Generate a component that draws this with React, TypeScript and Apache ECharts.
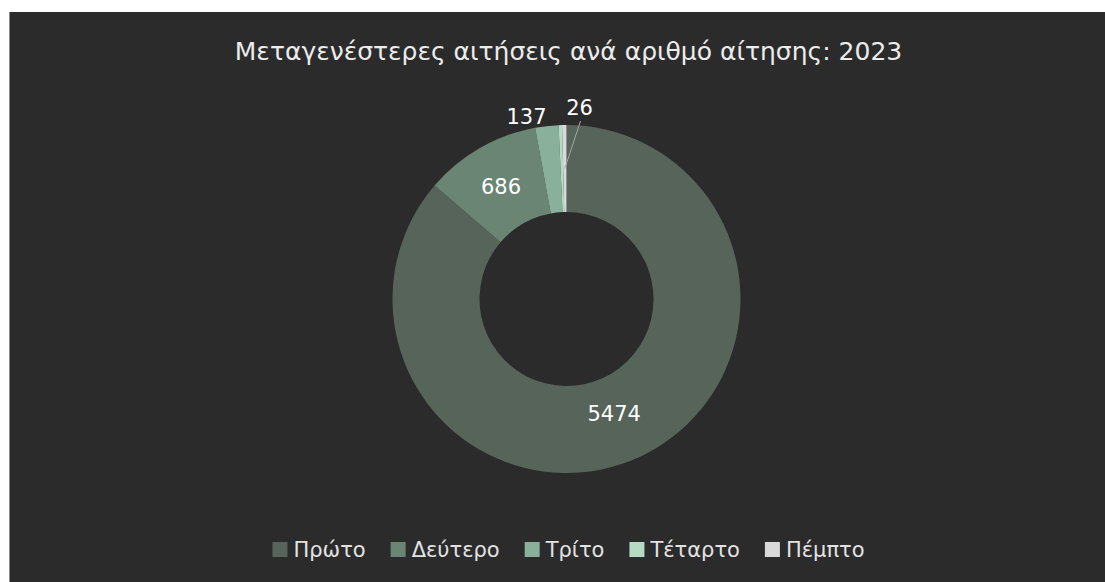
import React, { useEffect, useRef } from "react";
import * as echarts from "echarts";

const TITLE = "Μεταγενέστερες αιτήσεις ανά αριθμό αίτησης: 2023";
const categories = ["Πρώτο", "Δεύτερο", "Τρίτο", "Τέταρτο", "Πέμπτο"];
const values = [5474, 686, 137, 20, 26];
const colors = ["#56645a", "#6a8574", "#89b09a", "#b3dcc3", "#d9d9d9"];

const FONT = "'DejaVu Sans', sans-serif";
const CX = 556.5;
const CY = 287;
const R_IN = 87;
const R_OUT = 174;

export default function App() {
  const ref = useRef<HTMLDivElement>(null);
  useEffect(() => {
    if (!ref.current) return;
    const chart = echarts.init(ref.current, null, { renderer: "svg" });
    const total = values.reduce((a, b) => a + b, 0);
    const midPoint = (idx: number, r: number) => {
      let acc = 0;
      for (let i = 0; i < idx; i++) acc += values[i];
      const mid = ((acc + values[idx] / 2) / total) * Math.PI * 2;
      return [CX + r * Math.sin(mid), CY - r * Math.cos(mid)];
    };
    const L137 = [CX - 40, CY - 182];
    const L26 = [CX + 13, CY - 191];
    const [px, py] = midPoint(4, (R_IN + R_OUT) / 2);
    const data = categories.map((name, i) => {
      const item: any = { name, value: values[i], itemStyle: { color: colors[i] } };
      if (i === 3) item.label = { show: false };
      return item;
    });
    chart.setOption({
      animation: false,
      backgroundColor: "#2b2b2b",
      title: {
        text: TITLE,
        left: "center",
        top: 22,
        textStyle: { color: "#ececec", fontFamily: FONT, fontSize: 25, fontWeight: "normal" },
      },
      legend: {
        data: categories,
        bottom: 17,
        left: "center",
        icon: "rect",
        itemWidth: 15,
        itemHeight: 15,
        itemGap: 25,
        textStyle: { color: "#e2e2e2", fontFamily: FONT, fontSize: 21, padding: [0, 0, 0, 1] },
      },
      graphic: [
        {
          type: "line",
          silent: true,
          z: 10,
          shape: { x1: L26[0] + 1, y1: L26[1] + 13, x2: px, y2: py },
          style: { stroke: "#a6a6a6", lineWidth: 1 },
        },
      ],
      series: [
        {
          type: "pie",
          center: [CX, CY],
          radius: [R_IN, R_OUT],
          startAngle: 90,
          clockwise: true,
          avoidLabelOverlap: false,
          label: {
            show: true,
            position: "inside",
            formatter: "{c}",
            color: "#ffffff",
            fontFamily: FONT,
            fontSize: 21,
          },
          labelLine: { show: false },
          labelLayout: (p: any) => {
            if (p.dataIndex === 0) return { dx: -8, dy: -6 };
            if (p.dataIndex === 1) return { dx: 1, dy: 4 };
            if (p.dataIndex === 2) {
              return { x: L137[0], y: L137[1], align: "center", verticalAlign: "middle" };
            }
            if (p.dataIndex === 4) {
              return { x: L26[0], y: L26[1], align: "center", verticalAlign: "middle" };
            }
            return {};
          },
          emphasis: { disabled: true },
          data,
        },
      ],
    });
    return () => chart.dispose();
  }, []);
  return (
    <div
      ref={ref}
      style={{
        position: "fixed",
        left: 9,
        top: 12,
        width: 1118,
        height: 570,
        borderLeft: "1px solid #8a8a8a",
        boxSizing: "border-box",
      }}
    />
  );
}
